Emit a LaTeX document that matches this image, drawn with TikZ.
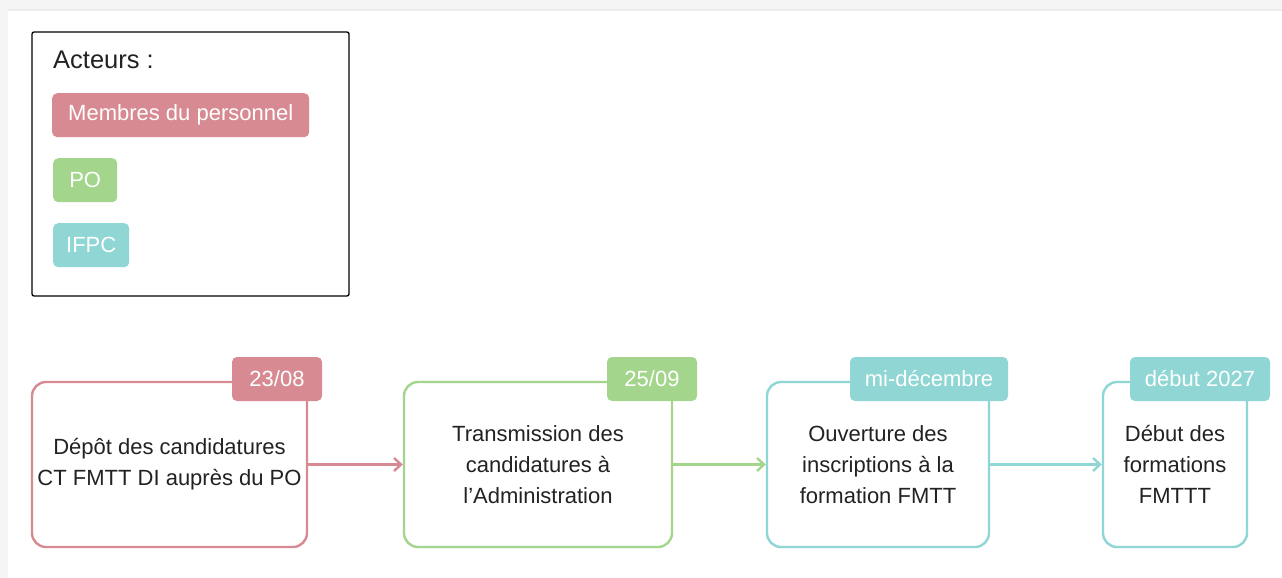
\documentclass[tikz,border=0pt]{standalone}
\usepackage{fontspec}
\setmainfont{Liberation Sans}
\usetikzlibrary{arrows.meta}
\definecolor{rosec}{RGB}{216,138,147}
\definecolor{vertc}{RGB}{163,214,140}
\definecolor{turqc}{RGB}{143,214,212}
\definecolor{texte}{RGB}{34,34,34}

\begin{document}
\begin{tikzpicture}[x=1pt,y=-1pt,
    txt/.style={font=\fontsize{22}{31}\selectfont},
    etape/.style={draw=#1,line width=2.4pt,rounded corners=14pt,fill=white,
      txt,text=texte,align=center,minimum height=165pt,inner sep=0pt},
    pastille/.style={fill=#1,rounded corners=5pt,txt,text=white,
      minimum height=44pt,inner sep=0pt},
    fleche/.style={draw=#1,line width=2.4pt,
      -{Straight Barb[length=7pt,width=13pt]}}]
  \useasboundingbox (0,0) rectangle (1282,578);
  % page background with the grey edge
  \fill[gray!8] (0,0) rectangle (1282,578);
  \fill[white] (8,11) rectangle (1282,578);
  \draw[gray!15,line width=2pt] (8,10)--(1282,10);

  % legend
  \draw[line width=1.3pt,rounded corners=2pt] (32,32) rectangle (349,296);
  \node[font=\fontsize{25.5}{31}\selectfont,text=texte,anchor=base west,inner sep=0pt]
    (titre) at (53,68) {Acteurs :};
  \node[pastille=rosec,anchor=north west,minimum width=257pt] (perso) at (52,93) {Membres du personnel};
  \node[pastille=vertc,anchor=north west,minimum width=64pt] (po) at (53,158) {PO};
  \node[pastille=turqc,anchor=north west,minimum width=76pt] (ifpc) at (53,223) {IFPC};

  % timeline steps
  \node[etape=rosec,minimum width=275pt] (depot) at (169.5,464.5)
    {Dépôt des candidatures\\CT FMTT DI auprès du PO};
  \node[etape=vertc,minimum width=268pt] (transm) at (538,464.5)
    {Transmission des\\candidatures à\\l’Administration};
  \node[etape=turqc,minimum width=222pt] (ouvert) at (878,464.5)
    {Ouverture des\\inscriptions à la\\formation FMTT};
  \node[etape=turqc,minimum width=144pt] (debut) at (1175,464.5)
    {Début des\\formations\\FMTTT};

  % date tags on the top edges
  \node[pastille=rosec,minimum width=90pt] (d1) at (277,379) {23/08};
  \node[pastille=vertc,minimum width=90pt] (d2) at (652,379) {25/09};
  \node[pastille=turqc,minimum width=158pt] (d3) at (929,379) {mi-décembre};
  \node[pastille=turqc,minimum width=140pt] (d4) at (1200,379) {début 2027};

  % connectors
  \draw[fleche=rosec] (depot) -- (transm);
  \draw[fleche=vertc] (transm) -- (ouvert);
  \draw[fleche=turqc] (ouvert) -- (debut);
\end{tikzpicture}
\end{document}
